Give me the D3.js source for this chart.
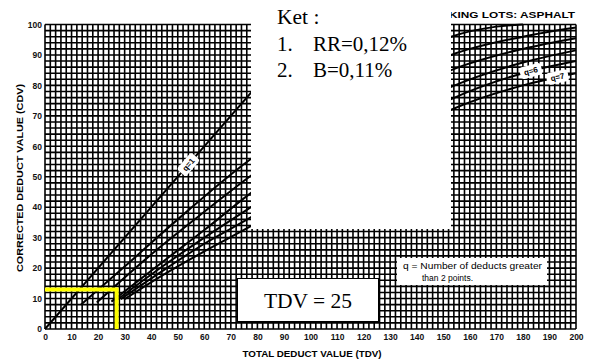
<!DOCTYPE html>
<html>
<head>
<meta charset="utf-8">
<script src="https://cdn.jsdelivr.net/npm/d3@7"></script>
<style>
  body { margin: 0; background: #fff; }
  svg { display: block; }
</style>
</head>
<body>
<script>
var width = 590,
    height = 362;

// axis ticks
var tdvTicks = d3.range(0, 201, 10);
var cdvTicks = d3.range(0, 101, 10);

// corrected deduct curves, [TDV, CDV]
var q1 = [[0, 0], [100, 100]];
var q2 = [[13.5, 8], [30, 20.5], [50, 36], [77, 55.5], [100, 69], [125, 83], [153, 96], [170, 99.3], [180, 100]];
var q3 = [[19.5, 8.7], [40, 24.5], [60, 38.5], [77, 50], [100, 64], [125, 78], [153, 90], [180, 96], [200, 99]];
var q4 = [[25, 9], [45, 22.5], [60, 32.5], [77, 44.3], [100, 58], [125, 72], [153, 85], [180, 92], [200, 95.5]];
var q5 = [[27, 9.5], [45, 21], [60, 30], [77, 39.7], [100, 53], [125, 66.5], [153, 79.5], [180, 87.5], [200, 91.5]];
var q6 = [[28.5, 9.8], [45, 19.5], [60, 28], [77, 36.4], [100, 49], [125, 62], [153, 75.5], [180, 84], [200, 88]];
var q7 = [[30, 9.8], [45, 18], [60, 25.5], [77, 33.5], [100, 45.5], [125, 58.5], [153, 72], [180, 80], [200, 84]];
var curves = [q1, q2, q3, q4, q5, q6, q7];

// curve labels: which curve, at which TDV
var curveLabels = [{ q: 1, tdv: 54 }, { q: 6, tdv: 183 }, { q: 7, tdv: 193 }];

// the worked example (yellow guide)
var exampleTDV = 27;
var exampleCDV = 13;

var ketLines = ['Ket :', '1.', 'RR=0,12%', '2.', 'B=0,11%'];

var svg = d3.select('body')
  .append('svg')
  .attr('width', width)
  .attr('height', height);

var x = d3.scaleLinear().domain([0, 200]).range([45, 576]);
var y = d3.scaleLinear().domain([0, 100]).range([329, 24.5]);

var sans = 'Liberation Sans, Arial, sans-serif';
var serif = 'Liberation Serif, Times New Roman, serif';

// title (left part hidden behind the note box)
svg.append('text')
  .attr('x', 449)
  .attr('y', 18)
  .attr('textLength', 126)
  .attr('lengthAdjust', 'spacingAndGlyphs')
  .style('font-family', sans)
  .style('font-weight', 'bold')
  .style('font-size', '9px')
  .text('KING LOTS:  ASPHALT');

// grid every 2 units
var grid = svg.append('g').attr('stroke', '#000').attr('stroke-width', 1.6);
grid.selectAll('.vx')
  .data(d3.range(0, 201, 2))
  .enter().append('line')
  .attr('x1', d => x(d)).attr('x2', d => x(d))
  .attr('y1', y(0)).attr('y2', y(100));
grid.selectAll('.hy')
  .data(d3.range(0, 101, 2))
  .enter().append('line')
  .attr('y1', d => y(d)).attr('y2', d => y(d))
  .attr('x1', x(0)).attr('x2', x(200));

var line = d3.line()
  .x(d => x(d[0]))
  .y(d => y(d[1]))
  .curve(d3.curveMonotoneX);

var paths = svg.append('g').selectAll('path')
  .data(curves)
  .enter().append('path')
  .attr('d', line)
  .attr('fill', 'none')
  .attr('stroke', '#000')
  .attr('stroke-width', 2);

// find point + angle on a curve at a given TDV
function pointAt(node, tdv) {
  var px = x(tdv), len = node.getTotalLength(), lo = 0, hi = len;
  for (var i = 0; i < 30; i++) {
    var mid = (lo + hi) / 2;
    if (node.getPointAtLength(mid).x < px) lo = mid; else hi = mid;
  }
  var p = node.getPointAtLength(lo);
  var p2 = node.getPointAtLength(Math.min(lo + 4, len));
  var p1 = node.getPointAtLength(Math.max(lo - 4, 0));
  return { x: p.x, y: p.y, a: Math.atan2(p2.y - p1.y, p2.x - p1.x) * 180 / Math.PI };
}

curveLabels.forEach(function(l) {
  var p = pointAt(paths.nodes()[l.q - 1], l.tdv);
  var g = svg.append('g')
    .attr('transform', 'translate(' + p.x + ',' + p.y + ') rotate(' + p.a + ')');
  g.append('rect')
    .attr('x', -11).attr('y', -6)
    .attr('width', 22).attr('height', 12)
    .attr('rx', 3)
    .attr('fill', '#fff');
  g.append('text')
    .attr('text-anchor', 'middle')
    .attr('dy', '0.35em')
    .style('font-family', sans)
    .style('font-weight', 'bold')
    .style('font-size', '8px')
    .text('q=' + l.q);
});

// axes
var xAxis = d3.axisBottom(x).tickValues(tdvTicks).tickSize(0).tickPadding(5);
var yAxis = d3.axisLeft(y).tickValues(cdvTicks).tickSize(0).tickPadding(3);

svg.append('g')
  .attr('transform', 'translate(0,' + y(0) + ')')
  .call(xAxis)
  .call(g => g.select('.domain').remove())
  .selectAll('text')
  .style('font-family', sans)
  .style('font-weight', 'bold')
  .style('font-size', '8.5px')
  .attr('fill', '#111');

svg.append('g')
  .attr('transform', 'translate(' + x(0) + ',0)')
  .call(yAxis)
  .call(g => g.select('.domain').remove())
  .selectAll('text')
  .style('font-family', sans)
  .style('font-weight', 'bold')
  .style('font-size', '8.5px')
  .attr('fill', '#111');

svg.append('text')
  .attr('x', 312)
  .attr('y', 357)
  .attr('text-anchor', 'middle')
  .attr('textLength', 139)
  .attr('lengthAdjust', 'spacingAndGlyphs')
  .style('font-family', sans)
  .style('font-weight', 'bold')
  .style('font-size', '8.5px')
  .text('TOTAL DEDUCT VALUE (TDV)');

svg.append('text')
  .attr('transform', 'translate(23,178) rotate(-90)')
  .attr('text-anchor', 'middle')
  .attr('textLength', 188)
  .attr('lengthAdjust', 'spacingAndGlyphs')
  .style('font-family', sans)
  .style('font-weight', 'bold')
  .style('font-size', '8.5px')
  .text('CORRECTED DEDUCT VALUE (CDV)');

// white note box covering the upper middle
svg.append('rect')
  .attr('x', 251).attr('y', 0)
  .attr('width', 200).attr('height', 229)
  .attr('fill', '#fff');

svg.append('text').attr('x', 277).attr('y', 24)
  .style('font-family', serif).style('font-size', '21.5px').text(ketLines[0]);
svg.append('text').attr('x', 277).attr('y', 51)
  .style('font-family', serif).style('font-size', '21px').text(ketLines[1]);
svg.append('text').attr('x', 313).attr('y', 51)
  .style('font-family', serif).style('font-size', '21px').text(ketLines[2]);
svg.append('text').attr('x', 277).attr('y', 77)
  .style('font-family', serif).style('font-size', '21px').text(ketLines[3]);
svg.append('text').attr('x', 313).attr('y', 77)
  .style('font-family', serif).style('font-size', '21px').text(ketLines[4]);

// q legend box
svg.append('rect')
  .attr('x', 397).attr('y', 258)
  .attr('width', 150).attr('height', 27)
  .attr('fill', '#fff');
svg.append('text').attr('x', 403).attr('y', 268.5)
  .style('font-family', sans)
  .style('font-size', '8.5px')
  .attr('textLength', 139).attr('lengthAdjust', 'spacingAndGlyphs')
  .text('q = Number of deducts greater');
svg.append('text').attr('x', 422).attr('y', 280.5)
  .style('font-family', sans)
  .style('font-size', '8.5px')
  .text('than 2 points.');

// TDV box
svg.append('rect')
  .attr('x', 237.5).attr('y', 278.5)
  .attr('width', 141).attr('height', 43)
  .attr('fill', '#fff')
  .attr('stroke', '#000')
  .attr('stroke-width', 1);
svg.append('text')
  .attr('x', 308).attr('y', 308)
  .attr('text-anchor', 'middle')
  .style('font-family', serif)
  .style('font-size', '21.5px')
  .text('TDV = ' + 25);

// yellow guide
svg.append('path')
  .attr('d', 'M' + x(0) + ',' + y(exampleCDV) + 'H' + x(exampleTDV) + 'V' + y(0))
  .attr('fill', 'none')
  .attr('stroke', '#ffff00')
  .attr('stroke-width', 4);
</script>
</body>
</html>
